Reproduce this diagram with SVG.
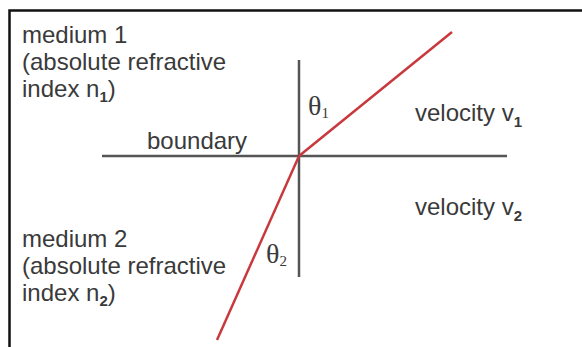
<svg xmlns="http://www.w3.org/2000/svg" width="582" height="347" viewBox="0 0 582 347">
<style>
.t{font-family:"Liberation Sans",Arial,sans-serif;font-size:24px;fill:#3a3a3a}
.s{font-size:15px;font-weight:bold}
.th{font-family:"Liberation Serif","Times New Roman",serif;font-size:28px;fill:#3a3a3a}
.ths{font-size:15px}
.ax{stroke:#555;stroke-width:2.5;fill:none}
.ray{stroke:#c8383c;stroke-width:2.5;fill:none}
</style>
<rect width="582" height="347" fill="#fff"/>
<path d="M9.5 347V10.5H582" stroke="#111" stroke-width="2.5" fill="none"/>
<g id="connectors">
<line class="ax" x1="299" y1="60" x2="299" y2="277"/>
<line class="ax" x1="102" y1="156" x2="507" y2="156"/>
<line class="ray" x1="452" y1="32" x2="299" y2="156"/>
<line class="ray" x1="299" y1="156" x2="217" y2="340"/>
</g>
<g id="medium1">
<text class="t" x="22" y="43">medium 1</text>
<text class="t" x="22" y="70">(absolute refractive</text>
<text class="t" x="22" y="97">index n<tspan class="s" dy="5">1</tspan><tspan dy="-5">)</tspan></text>
</g>
<g id="medium2">
<text class="t" x="22" y="247">medium 2</text>
<text class="t" x="22" y="274">(absolute refractive</text>
<text class="t" x="22" y="301">index n<tspan class="s" dy="5">2</tspan><tspan dy="-5">)</tspan></text>
</g>
<g id="boundary"><text class="t" x="147" y="149">boundary</text></g>
<g id="v1"><text class="t" x="415" y="121">velocity v<tspan class="s" dy="6">1</tspan></text></g>
<g id="v2"><text class="t" x="415" y="215">velocity v<tspan class="s" dy="6">2</tspan></text></g>
<g id="theta1"><text class="th" x="308" y="115">θ<tspan class="ths" dy="3">1</tspan></text></g>
<g id="theta2"><text class="th" x="266" y="263">θ<tspan class="ths" dy="3">2</tspan></text></g>
</svg>
